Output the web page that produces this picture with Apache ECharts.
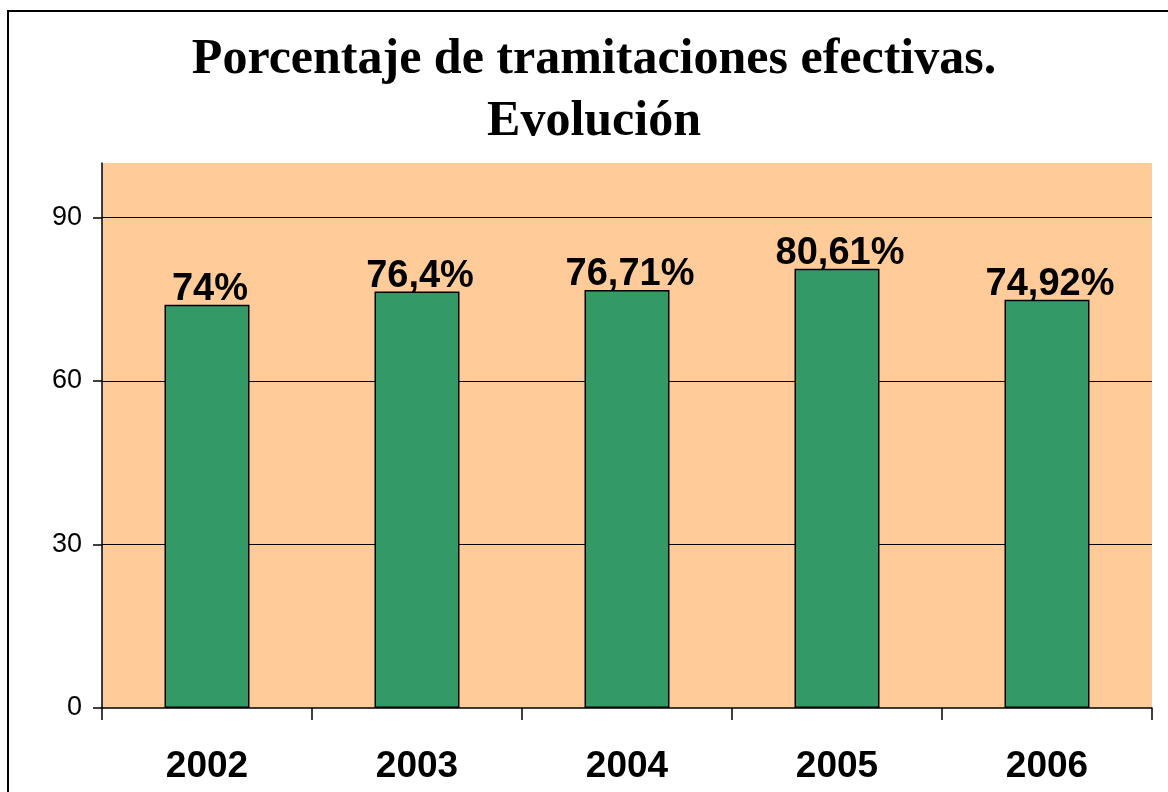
<!DOCTYPE html>
<html>
<head>
<meta charset="utf-8">
<title>Porcentaje de tramitaciones efectivas</title>
<script src="https://cdn.jsdelivr.net/npm/echarts@6/dist/echarts.min.js"></script>
<style>
  html, body { margin: 0; padding: 0; background: #ffffff; }
  #chart { width: 1168px; height: 792px; }
</style>
</head>
<body>
<div id="chart"></div>
<script>
// Years and effective-processing percentages
const years = ['2002', '2003', '2004', '2005', '2006'];
const percentages = [74, 76.4, 76.71, 80.61, 74.92];
const yTicks = [0, 30, 60, 90];

// Spanish-style value label: decimal comma plus percent sign
const formatPct = v => String(v).replace('.', ',') + '%';

const chart = echarts.init(document.getElementById('chart'));

chart.setOption({
  animation: false,
  backgroundColor: '#ffffff',
  title: {
    text: 'Porcentaje de tramitaciones efectivas.\nEvolución',
    left: 589,
    top: 24,
    textAlign: 'center',
    textStyle: {
      fontFamily: '"Liberation Serif", "Times New Roman", serif',
      fontWeight: 'bold',
      fontSize: 50,
      lineHeight: 62,
      color: '#000000'
    }
  },
  graphic: [{
    type: 'rect',
    shape: { x: 8, y: 11, width: 1200, height: 1000 },
    style: { fill: 'none', stroke: '#000000', lineWidth: 2 },
    silent: true,
    z: 0
  }],
  grid: {
    left: 102,
    right: 16,
    top: 163,
    bottom: 84,
    show: true,
    backgroundColor: '#FFCC99',
    borderWidth: 0
  },
  xAxis: {
    type: 'category',
    data: years,
    axisLine: { show: true, lineStyle: { color: '#000000', width: 1.5 } },
    axisTick: { show: true, alignWithLabel: false, length: 12, lineStyle: { color: '#000000', width: 1.5 } },
    axisLabel: {
      margin: 40,
      fontFamily: '"Liberation Sans", Arial, sans-serif',
      fontWeight: 'bold',
      fontSize: 37,
      color: '#000000'
    },
    splitLine: { show: false }
  },
  yAxis: {
    type: 'value',
    min: 0,
    max: 100,
    interval: 30,
    axisLine: { show: true, lineStyle: { color: '#000000', width: 1.5 } },
    axisTick: {
      show: true,
      length: 9,
      customValues: yTicks,
      lineStyle: { color: '#000000', width: 1.5 }
    },
    axisLabel: {
      margin: 20,
      customValues: yTicks,
      fontFamily: '"Liberation Sans", Arial, sans-serif',
      fontSize: 27,
      color: '#000000'
    },
    splitLine: {
      show: true,
      showMinLine: false,
      lineStyle: { color: '#000000', width: 1.2 }
    }
  },
  series: [{
    type: 'bar',
    data: percentages,
    barWidth: 85,
    itemStyle: {
      color: '#339966',
      borderColor: '#000000',
      borderWidth: 1.5
    },
    label: {
      show: true,
      position: 'top',
      distance: -4,
      offset: [3, 0],
      formatter: p => formatPct(p.value),
      fontFamily: '"Liberation Sans", Arial, sans-serif',
      fontWeight: 'bold',
      fontSize: 38,
      color: '#000000'
    }
  }]
});
</script>
</body>
</html>
